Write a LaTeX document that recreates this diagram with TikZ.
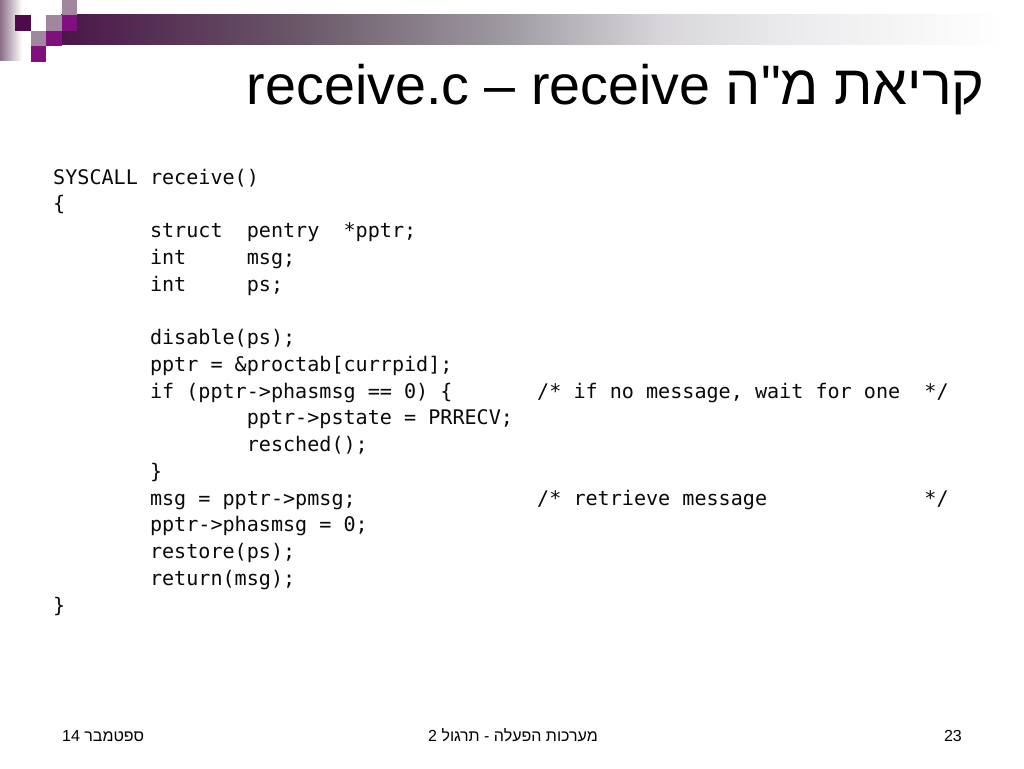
\documentclass[tikz,border=0pt]{standalone}
\usepackage{fontspec}
\setmainfont{Liberation Sans}
\setmonofont{DejaVu Sans Mono}
\newfontfamily\hebfont[Script=Hebrew]{Liberation Sans}
\TeXXeTstate=1
\definecolor{barA}{RGB}{74,22,72}
\definecolor{barB}{RGB}{106,88,104}
\definecolor{barC}{RGB}{157,152,160}
\definecolor{barD}{RGB}{216,214,218}
\definecolor{barE}{RGB}{236,236,238}
\definecolor{sqdark}{RGB}{79,10,76}
\definecolor{sqmag}{RGB}{128,16,126}
\definecolor{sqmauve}{RGB}{160,135,157}
\definecolor{stripc}{RGB}{140,110,136}
\definecolor{codeblack}{RGB}{10,10,10}
\pgfdeclarehorizontalshading{barshade}{100bp}{color(0bp)=(barA); color(25bp)=(barA); color(37.6bp)=(barB); color(48.2bp)=(barC); color(56.7bp)=(barD); color(64bp)=(barE); color(75bp)=(white); color(100bp)=(white)}
\newcommand\codecol[1]{53+#1*12.1}
\newcommand\coderow[1]{184+#1*26.75}
\tikzset{
  code/.style={anchor=base west, inner sep=0pt, text=codeblack, font=\ttfamily\fontsize{20.1}{24}\selectfont},
  titletext/.style={anchor=base east, inner sep=0pt, font=\fontsize{55.6}{60}\selectfont},
  foot/.style={inner sep=0pt, font=\fontsize{16}{19}\selectfont}
}
\begin{document}
\begin{tikzpicture}[x=1pt,y=-1pt]
\useasboundingbox (0,0) rectangle (1024,768);
\fill[white] (0,0) rectangle (1024,768);
% decoration
\shade[left color=stripc, right color=white] (0,0) rectangle (22,60);
\shade[shading=barshade] (61,15) rectangle (1007,45);
\fill[sqmauve] (61.6,0) rectangle (77,15.4);
\fill[sqdark] (15.4,15.4) rectangle (30.8,30.8);
\fill[white] (30.8,15.4) rectangle (46.2,30.8);
\fill[sqmauve] (46.2,15.4) rectangle (61.6,30.8);
\fill[sqmag] (61.6,15.4) rectangle (77,30.8);
\fill[sqmauve] (30.8,30.8) rectangle (46.2,46.2);
\fill[sqmag] (46.2,30.8) rectangle (61.6,46.2);
\fill[sqmag] (30.8,46.2) rectangle (46.2,61.6);
% title
\node[titletext] (title) at (985,104) {receive.c – receive {\hebfont\beginR קריאת מ"ה\endR}};
% code
\node[code] (c0) at ({\codecol{0}},{\coderow{0}}) {SYSCALL~receive()};
\node[code] (c1) at ({\codecol{0}},{\coderow{1}}) {\{};
\node[code] (c2) at ({\codecol{8}},{\coderow{2}}) {struct~~pentry~~*pptr;};
\node[code] (c3) at ({\codecol{8}},{\coderow{3}}) {int~~~~~msg;};
\node[code] (c4) at ({\codecol{8}},{\coderow{4}}) {int~~~~~ps;};
\node[code] (c6) at ({\codecol{8}},{\coderow{6}}) {disable(ps);};
\node[code] (c7) at ({\codecol{8}},{\coderow{7}}) {pptr~=~\&proctab[currpid];};
\node[code] (c8) at ({\codecol{8}},{\coderow{8}}) {if~(pptr->phasmsg~==~0)~\{};
\node[code] (c8b) at ({\codecol{40}},{\coderow{8}}) {/*~if~no~message,~wait~for~one};
\node[code] (c8c) at ({\codecol{72}},{\coderow{8}}) {*/};
\node[code] (c9) at ({\codecol{16}},{\coderow{9}}) {pptr->pstate~=~PRRECV;};
\node[code] (c10) at ({\codecol{16}},{\coderow{10}}) {resched();};
\node[code] (c11) at ({\codecol{8}},{\coderow{11}}) {\}};
\node[code] (c12) at ({\codecol{8}},{\coderow{12}}) {msg~=~pptr->pmsg;};
\node[code] (c12b) at ({\codecol{40}},{\coderow{12}}) {/*~retrieve~message};
\node[code] (c12c) at ({\codecol{72}},{\coderow{12}}) {*/};
\node[code] (c13) at ({\codecol{8}},{\coderow{13}}) {pptr->phasmsg~=~0;};
\node[code] (c14) at ({\codecol{8}},{\coderow{14}}) {restore(ps);};
\node[code] (c15) at ({\codecol{8}},{\coderow{15}}) {return(msg);};
\node[code] (c16) at ({\codecol{0}},{\coderow{16}}) {\}};
% footer
\node[foot, anchor=base west] (fdate) at (62,741) {14 {\hebfont\beginR ספטמבר\endR}};
\node[foot, anchor=base] (fcourse) at (513,741) {{\hebfont\beginR מערכות הפעלה - תרגול \beginL 2\endL\endR}};
\node[foot, anchor=base east] (fpage) at (962,741) {23};
\end{tikzpicture}
\end{document}
